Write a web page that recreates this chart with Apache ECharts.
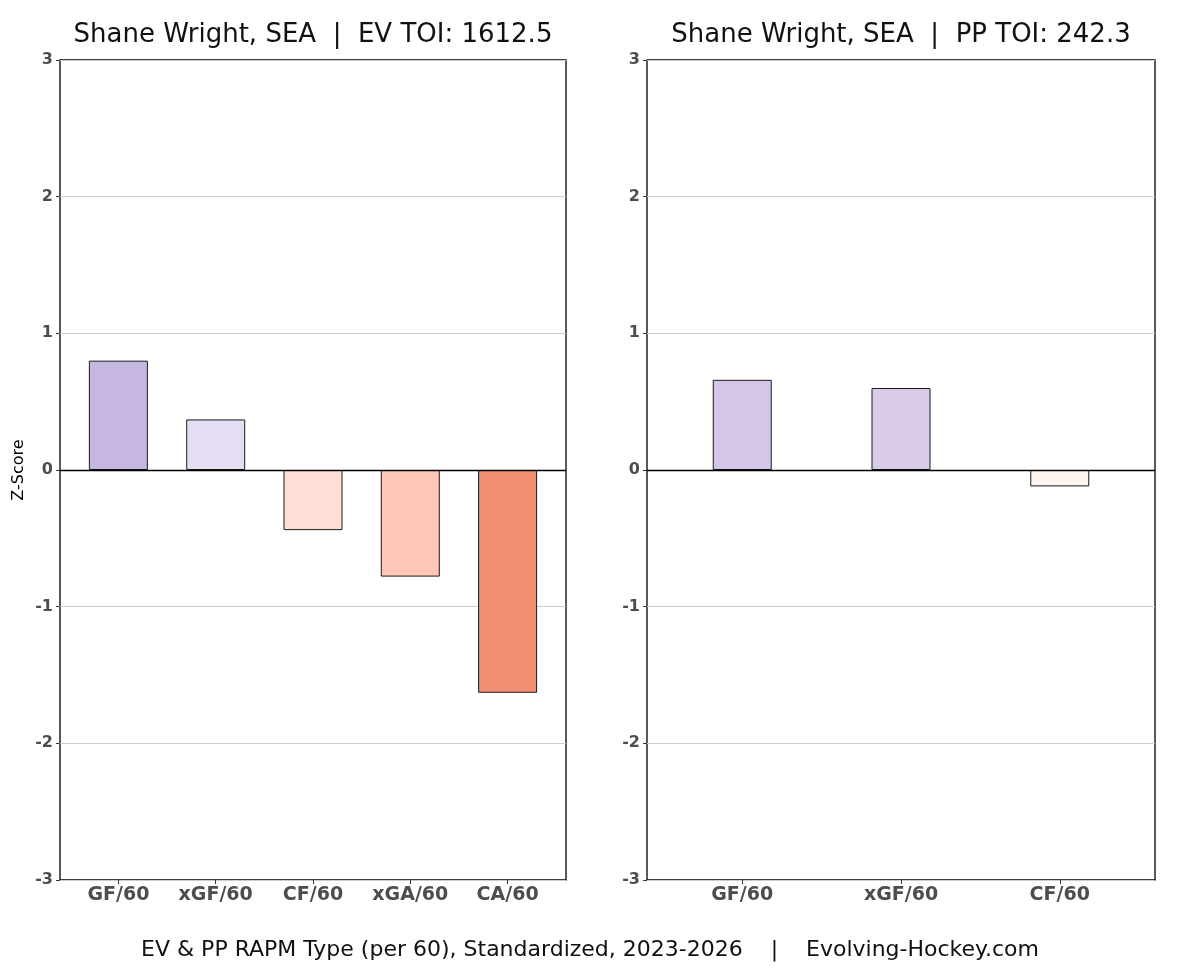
<!DOCTYPE html>
<html>
<head>
<meta charset="utf-8">
<script src="https://cdn.jsdelivr.net/npm/echarts@6/dist/echarts.min.js"></script>
<style>
html,body{margin:0;padding:0;background:#fff;}
#chart{width:1180px;height:972px;}
</style>
</head>
<body>
<div id="chart"></div>
<script>
// ---- data ----
const evCategories = ['GF/60', 'xGF/60', 'CF/60', 'xGA/60', 'CA/60'];
const evValues = [0.80, 0.37, -0.44, -0.78, -1.63];
const ppCategories = ['GF/60', 'xGF/60', 'CF/60'];
const ppValues = [0.66, 0.60, -0.12];
const yTicks = [-3, -2, -1, 0, 1, 2, 3];
const evTitle = 'Shane Wright, SEA  |  EV TOI: 1612.5';
const ppTitle = 'Shane Wright, SEA  |  PP TOI: 242.3';
const footer = 'EV & PP RAPM Type (per 60), Standardized, 2023-2026    |    Evolving-Hockey.com';
const yName = 'Z-Score';

// ---- styles ----
const evColors = ['#c6b7e0', '#e5def2', '#fee0d6', '#fdc6b6', '#f38e72'];
const ppColors = ['#d3c6e8', '#d8cce9', '#fff5f0'];
const FONT = 'DejaVu Sans';
const LABEL_GRAY = '#4d4d4d';

function xAxisFor(gridIndex, cats) {
  const idx = cats.map((c, i) => i);
  return {
    type: 'value', gridIndex: gridIndex, position: 'bottom',
    min: -0.6, max: cats.length - 1 + 0.6,
    axisLine: {show: false, onZero: false},
    splitLine: {show: false},
    axisTick: {show: true, customValues: idx, length: 4, lineStyle: {color: '#333', width: 1}},
    axisLabel: {
      show: true, customValues: idx, margin: 6,
      formatter: v => cats[Math.round(v)] || '',
      fontFamily: FONT, fontWeight: 'bold', fontSize: 19, color: LABEL_GRAY
    }
  };
}
function yAxisFor(gridIndex, withName) {
  const ax = {
    type: 'value', gridIndex: gridIndex, position: 'left',
    min: yTicks[0], max: yTicks[yTicks.length - 1], interval: 1,
    axisLine: {show: false, onZero: false},
    axisTick: {show: true, length: 4, lineStyle: {color: '#333', width: 1}},
    axisLabel: {fontFamily: FONT, fontWeight: 'bold', fontSize: 16, color: LABEL_GRAY, margin: 7},
    splitLine: {show: true, lineStyle: {color: '#cccccc', width: 1}}
  };
  if (withName) {
    ax.name = yName;
    ax.nameLocation = 'middle';
    ax.nameGap = 33;
    ax.nameRotate = 90;
    ax.nameTextStyle = {fontFamily: FONT, fontSize: 16, color: '#000'};
  }
  return ax;
}
function barSeries(idx, vals, colors) {
  return {
    type: 'bar', xAxisIndex: idx, yAxisIndex: idx,
    barWidth: 59,
    data: vals.map((v, i) => ({value: [i, v], itemStyle: {color: colors[i]}})),
    itemStyle: {borderColor: '#1a1a1a', borderWidth: 1},
    markLine: {
      silent: true, symbol: ['none', 'none'],
      label: {show: false},
      lineStyle: {color: '#000', width: 1.4, type: 'solid'},
      data: [{yAxis: 0}]
    }
  };
}

const chart = echarts.init(document.getElementById('chart'), null, {renderer: 'canvas'});
chart.setOption({
  animation: false,
  backgroundColor: '#fff',
  title: [
    {text: evTitle, left: 313, top: 22, textAlign: 'center', padding: 0,
     textStyle: {fontFamily: FONT, fontSize: 26, fontWeight: 'normal', color: '#111'}},
    {text: ppTitle, left: 901, top: 22, textAlign: 'center', padding: 0,
     textStyle: {fontFamily: FONT, fontSize: 26, fontWeight: 'normal', color: '#111'}},
    {text: footer, left: 590, top: 939, textAlign: 'center', padding: 0,
     textStyle: {fontFamily: FONT, fontSize: 22, fontWeight: 'normal', color: '#111'}}
  ],
  grid: [
    {left: 60, right: 614, top: 60, bottom: 92, show: true, borderColor: '#000', borderWidth: 1.3, backgroundColor: 'transparent'},
    {left: 647, right: 25, top: 60, bottom: 92, show: true, borderColor: '#000', borderWidth: 1.3, backgroundColor: 'transparent'}
  ],
  xAxis: [xAxisFor(0, evCategories), xAxisFor(1, ppCategories)],
  yAxis: [yAxisFor(0, true), yAxisFor(1, false)],
  series: [barSeries(0, evValues, evColors), barSeries(1, ppValues, ppColors)]
});
</script>
</body>
</html>
